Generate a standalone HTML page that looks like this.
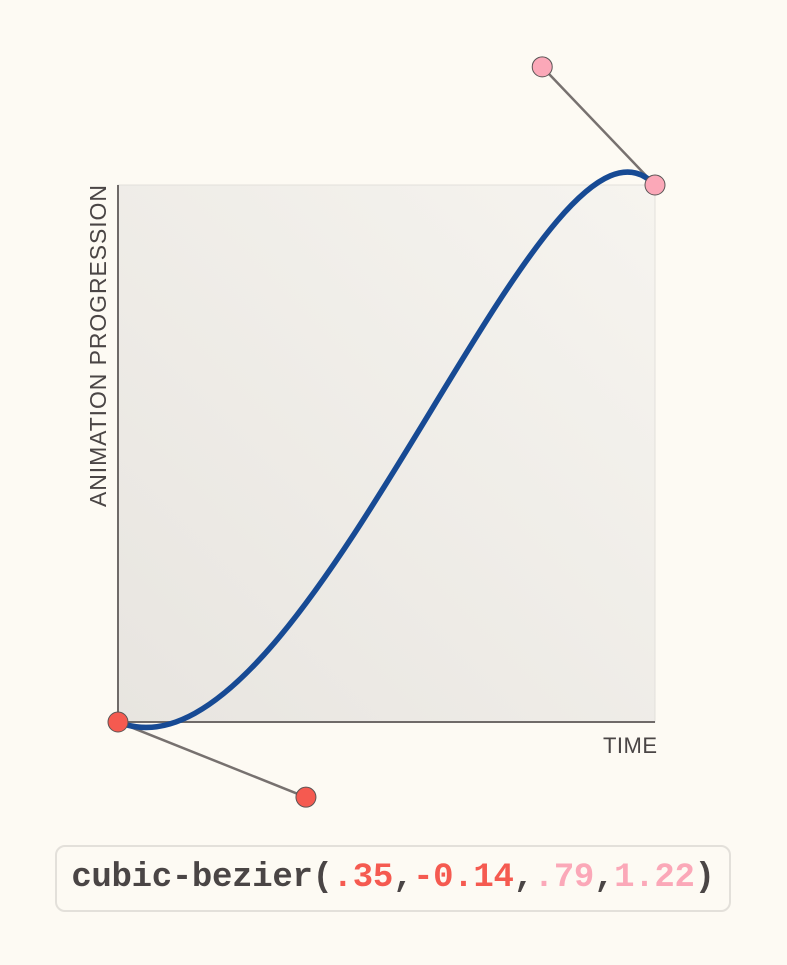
<!DOCTYPE html>
<html><head><meta charset="utf-8"><style>
html,body{margin:0;padding:0;background:#fdfaf3;width:787px;height:965px;overflow:hidden;font-family:"Liberation Sans",sans-serif}
#code{position:absolute;left:55px;top:845px;width:676px;height:67px;box-sizing:border-box;border:2px solid #e3e0da;border-radius:10px;background:#fdfaf3;font-family:"Liberation Mono",monospace;font-weight:bold;font-size:34px;line-height:63px;text-align:center;color:#4a4545;letter-spacing:-0.3px;white-space:nowrap;overflow:visible}
.r{color:#f55a50}.p{color:#fba8b8}
</style></head><body>
<svg width="787" height="965" style="position:absolute;left:0;top:0">
<defs><linearGradient id="g" x1="0" y1="1" x2="1" y2="0"><stop offset="0" stop-color="#e8e5e0"/><stop offset="1" stop-color="#f6f4ef"/></linearGradient></defs>
<rect id="plot" x="118" y="185" width="537" height="537" fill="url(#g)" stroke="#e2e0db"/>
<line x1="118" y1="185" x2="118" y2="722" stroke="#6f6a68" stroke-width="2"/>
<line x1="118" y1="722" x2="655" y2="722" stroke="#6f6a68" stroke-width="2"/>
<text x="657" y="753" text-anchor="end" font-size="22" textLength="54" fill="#4a4545" font-family="Liberation Sans,sans-serif">TIME</text>
<text transform="translate(106,507) rotate(-90)" font-size="23" textLength="322" fill="#4a4545" font-family="Liberation Sans,sans-serif">ANIMATION PROGRESSION</text>
<g id="marks"></g>
</svg>
<div id="code">cubic-bezier(<span class="r">.35</span>,<span class="r">-0.14</span>,<span class="p">.79</span>,<span class="p">1.22</span>)</div>
<script>
const controlX=[0.35,0.79];
const controlY=[-0.14,1.22];
const X0=118,Y0=722,S=537;
const sx=v=>X0+v*S, sy=v=>Y0-v*S;
const g=document.getElementById('marks');
const NS='http://www.w3.org/2000/svg';
function mk(t,a){const e=document.createElementNS(NS,t);for(const k in a)e.setAttribute(k,a[k]);g.appendChild(e);return e;}
const l1=mk('line',{x1:sx(0),y1:sy(0),x2:sx(controlX[0]),y2:sy(controlY[0]),stroke:'#77716f','stroke-width':2.5});


const l2=mk('line',{x1:sx(1),y1:sy(1),x2:sx(controlX[1]),y2:sy(controlY[1]),stroke:'#77716f','stroke-width':2.5});


const c=mk('path',{d:`M${sx(0)},${sy(0)} C${sx(controlX[0])},${sy(controlY[0])} ${sx(controlX[1])},${sy(controlY[1])} ${sx(1)},${sy(1)}`,fill:'none',stroke:'#174a94','stroke-width':5.5});


const s0=mk('circle',{cx:sx(0),cy:sy(0),r:10,fill:'#f55a50',stroke:'#5a5555','stroke-width':1});


const p1=mk('circle',{cx:sx(controlX[0]),cy:sy(controlY[0]),r:10,fill:'#f55a50',stroke:'#5a5555','stroke-width':1});


const p2=mk('circle',{cx:sx(controlX[1]),cy:sy(controlY[1]),r:10,fill:'#fba8b8',stroke:'#5a5555','stroke-width':1});


const e1=mk('circle',{cx:sx(1),cy:sy(1),r:10,fill:'#fba8b8',stroke:'#5a5555','stroke-width':1});


</script>
</body></html>
